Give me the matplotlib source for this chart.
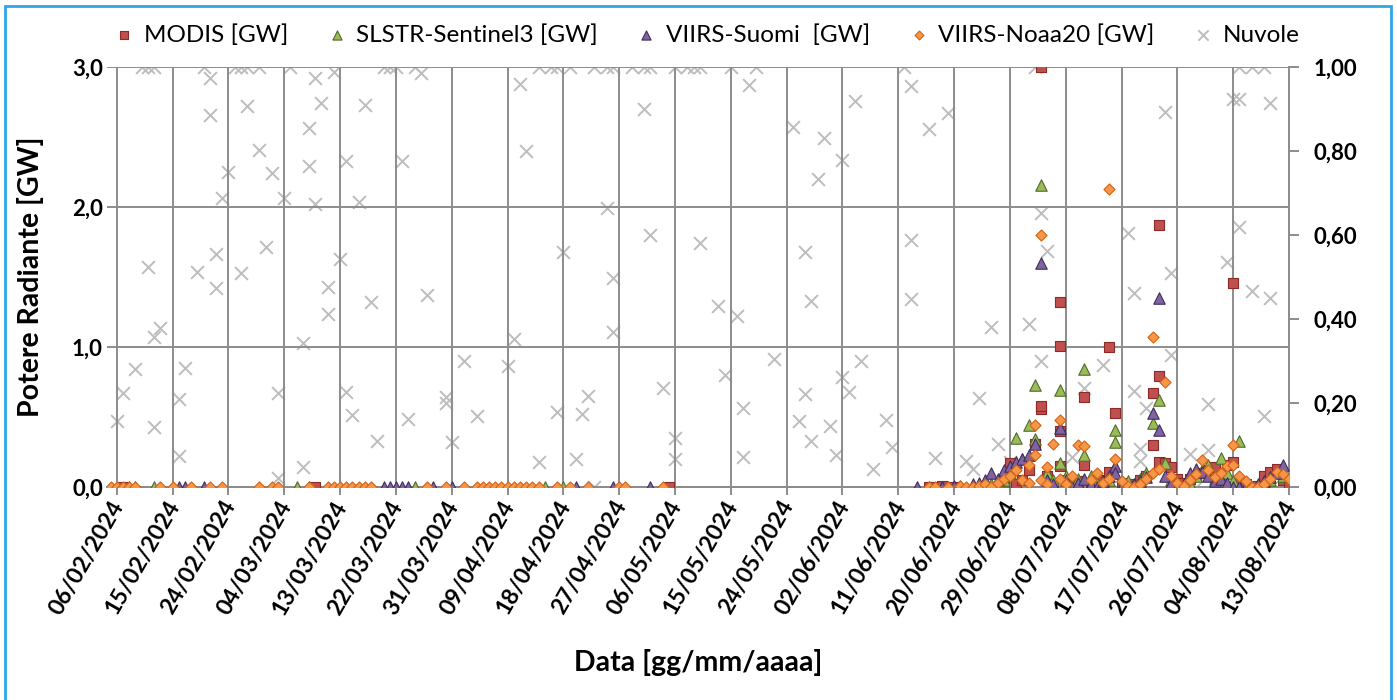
import sys
import numpy as np
import matplotlib
matplotlib.use("Agg")
import matplotlib.pyplot as plt
import matplotlib.dates as mdates
import matplotlib.transforms as mtransforms
from matplotlib.patches import Rectangle
from matplotlib.ticker import FuncFormatter, MultipleLocator

# Day offsets are counted from 06/02/2024
start_date = np.datetime64("2024-02-06")

# MODIS [GW]
modis_days = [1, 32, 89,
              131, 132, 133, 135, 140, 143, 144, 145, 146, 147, 148, 149, 149, 149, 150, 151,
              152, 152, 152, 152, 153, 154, 155, 156, 156, 157, 158, 159, 160, 160, 161, 162,
              163, 164, 165, 166, 167, 167, 168, 168, 168, 169, 170, 171, 172, 173, 174, 175,
              176, 177, 178, 179, 180, 180, 181, 182, 183, 184, 185, 186, 187, 188, 189]
modis_vals = [0.0, 0.0, 0.0,
              0.0, 0.0, 0.01, 0.0, 0.0, 0.02, 0.17, 0.02, 0.05, 0.12, 0.31, 0.56, 0.58, 3.0, 0.08, 0.03,
              1.32, 1.01, 0.40, 0.15, 0.05, 0.02, 0.04, 0.645, 0.16, 0.03, 0.02, 0.05, 1.00, 0.11, 0.53, 0.03,
              0.02, 0.01, 0.05, 0.08, 0.30, 0.67, 1.87, 0.79, 0.18, 0.17, 0.14, 0.06, 0.03, 0.06, 0.08, 0.10,
              0.12, 0.14, 0.05, 0.16, 1.46, 0.18, 0.03, 0.02, 0.0, 0.01, 0.08, 0.11, 0.13, 0.05, 0.02]

# SLSTR-Sentinel3 [GW]
slstr_days = [6, 29, 48, 69, 72,
              133, 136, 138, 141, 143, 144, 145, 146, 147, 148, 148, 149, 150, 151, 152, 152,
              153, 154, 155, 156, 156, 157, 158, 159, 160, 161, 161, 162, 163, 164, 165, 166,
              167, 168, 169, 170, 171, 172, 173, 174, 175, 176, 177, 178, 179, 180, 181, 182,
              183, 185, 186, 188]
slstr_vals = [0.0, 0.0, 0.0, 0.0, 0.0,
              0.0, 0.01, 0.0, 0.02, 0.05, 0.10, 0.35, 0.20, 0.44, 0.73, 0.34, 2.16, 0.10, 0.05, 0.69, 0.17,
              0.08, 0.02, 0.06, 0.84, 0.23, 0.08, 0.03, 0.02, 0.05, 0.41, 0.32, 0.02, 0.04, 0.0, 0.06, 0.10,
              0.46, 0.62, 0.17, 0.05, 0.03, 0.01, 0.02, 0.08, 0.12, 0.16, 0.06, 0.21, 0.10, 0.04, 0.33, 0.02,
              0.0, 0.03, 0.05, 0.08]

# VIIRS-Suomi [GW]
suomi_days = [2, 3, 10, 11, 14, 31, 43, 44, 45, 46, 47, 51, 54, 74, 80, 86, 129,
              131, 133, 134, 135, 136, 138, 139, 140, 141, 142, 143, 144, 145, 146, 147, 148,
              149, 150, 151, 152, 153, 154, 155, 156, 157, 158, 159, 160, 161, 161, 162, 163,
              164, 165, 166, 167, 168, 168, 169, 170, 171, 172, 173, 174, 175, 176, 177, 178,
              179, 180, 181, 182, 183, 184, 185, 186, 187, 188]
suomi_vals = [0.0] * 17 + \
             [0.0, 0.0, 0.0, 0.01, 0.0, 0.02, 0.03, 0.05, 0.10, 0.06, 0.12, 0.15, 0.18, 0.20, 0.23, 0.31,
              1.60, 0.05, 0.02, 0.42, 0.05, 0.0, 0.03, 0.06, 0.02, 0.0, 0.04, 0.08, 0.15, 0.10, 0.01, 0.0,
              0.02, 0.04, 0.07, 0.53, 1.35, 0.41, 0.08, 0.03, 0.0, 0.02, 0.10, 0.13, 0.11, 0.08, 0.04, 0.06,
              0.03, 0.0, 0.0, 0.01, 0.0, 0.02, 0.04, 0.07, 0.10, 0.16]

# VIIRS-Noaa20 [GW]
noaa_days = [-1, 0, 1, 2, 3, 7, 9, 12, 15, 17, 23, 25, 26, 31, 34, 35, 36, 37, 38, 39, 40, 41,
             50, 53, 56, 58, 59, 60, 61, 62, 63, 64, 65, 66, 67, 68, 71, 73, 76, 81, 82, 88,
             131, 132, 134, 136, 137, 138, 139, 140, 141, 142, 143, 144, 145, 146, 147, 147,
             148, 148, 149, 149, 150, 150, 151, 152, 152, 153, 154, 155, 156, 157, 158, 159,
             160, 160, 161, 162, 163, 164, 165, 166, 167, 167, 168, 169, 170, 171, 172, 173,
             174, 175, 176, 177, 178, 179, 180, 180, 181, 182, 183, 184, 185, 186, 187, 188, 189]
noaa_vals = [0.0] * 42 + \
            [0.0, 0.0, 0.0, 0.01, 0.0, 0.0, 0.01, 0.02, 0.0, 0.03, 0.06, 0.08, 0.12, 0.05, 0.16, 0.03,
             0.44, 0.23, 1.80, 0.05, 0.14, 0.02, 0.31, 0.48, 0.06, 0.02, 0.08, 0.30, 0.29, 0.05, 0.10, 0.03,
             2.13, 0.06, 0.20, 0.04, 0.01, 0.0, 0.02, 0.06, 1.07, 0.10, 0.13, 0.75, 0.08, 0.03, 0.01, 0.05,
             0.09, 0.19, 0.12, 0.07, 0.10, 0.15, 0.30, 0.16, 0.08, 0.04, 0.0, 0.0, 0.02, 0.06, 0.11, 0.09, 0.06]

# Nuvole (cloud fraction, right axis)
cloud_days = [4, 5, 6, 14, 19, 20, 21, 23, 28, 43, 44, 45, 48, 68, 70, 71, 73, 77, 79, 80,
              83, 85, 86, 90, 92, 93, 94, 99, 103, 127, 148, 181, 183, 185,
              0, 1, 3, 5, 6, 6, 7, 10, 10, 11, 13, 15, 15, 16, 16, 17, 18, 20, 21, 23,
              24, 25, 26, 26, 27, 30, 30, 31, 31, 32, 32, 33, 34, 34, 35, 36, 37, 37, 38, 39,
              40, 41, 42, 46, 47, 49, 50, 53, 53, 54, 56, 58, 63, 64, 65, 66, 68, 71, 72, 74,
              75, 76, 77, 79, 80, 80, 85, 86, 88, 90, 90, 94, 97, 98, 100, 101, 101, 102, 106, 109,
              110, 111, 111, 112, 112, 113, 114, 115, 116, 117, 117, 118, 119, 120, 122, 124, 125, 128, 128, 128,
              131, 132, 134, 137, 138, 139, 141, 142, 144, 147, 149, 149, 150, 154, 156, 159, 162, 163, 164, 164,
              165, 165, 166, 169, 170, 170, 173, 174, 176, 176, 177, 179, 180, 181, 181, 183, 185, 186, 186]
cloud_vals = [1.0] * 34 + \
             [0.156, 0.225, 0.280, 0.525, 0.356, 0.144, 0.378, 0.209, 0.074, 0.284, 0.513, 0.973, 0.886,
              0.555, 0.473, 0.687, 0.751, 0.509, 0.906, 0.802,
              0.571, 0.747, 0.225, 0.021, 0.687, 0.342, 0.047, 0.854, 0.765, 0.975, 0.674, 0.914, 0.477,
              0.412, 0.989, 0.542, 0.776, 0.227, 0.171, 0.679,
              0.910, 0.440, 0.110, 0.776, 0.162, 0.985, 0.457, 0.215, 0.199, 0.108, 0.300, 0.170, 0.288,
              0.352, 0.959, 0.800, 0.059, 0.179, 0.560, 0.066,
              0.173, 0.217, 0.0, 0.664, 0.498, 0.370, 0.900, 0.600, 0.236, 0.116, 0.066, 0.580, 0.431,
              0.267, 0.408, 0.187, 0.072, 0.957, 0.304, 0.858,
              0.157, 0.560, 0.221, 0.444, 0.110, 0.733, 0.832, 0.145, 0.076, 0.779, 0.263, 0.227, 0.919,
              0.300, 0.043, 0.160, 0.096, 0.955, 0.588, 0.448,
              0.852, 0.070, 0.890, 0.062, 0.044, 0.213, 0.382, 0.102, 0.060, 0.388, 0.653, 0.301, 0.562,
              0.072, 0.235, 0.290, 0.0, 0.604, 0.463, 0.229,
              0.090, 0.063, 0.187, 0.894, 0.510, 0.314, 0.079, 0.0, 0.198, 0.088, 0.0, 0.535, 0.923,
              0.923, 0.620, 0.467, 0.170, 0.915, 0.449]

tick_step = 9      # days between date labels
n_days = 189       # 06/02/2024 -> 13/08/2024


def to_dates(days):
    return start_date + np.array(days).astype("timedelta64[D]")


def main():
    plt.rcParams['font.family'] = ['Lato', 'DejaVu Sans']

    fig = plt.figure(figsize=(13.97, 7.0), dpi=100)
    ax1 = fig.add_axes([107 / 1397, 1 - 487 / 700, 1182 / 1397, 420 / 700])
    ax2 = ax1.twinx()

    # clouds behind the radiative power markers
    ax1.set_zorder(ax2.get_zorder() + 1)
    ax1.patch.set_visible(False)

    cl = ax2.scatter(to_dates(cloud_days), cloud_vals, marker='x', s=85, color='#bdbdbd',
                     linewidths=1.4, label='Nuvole')

    m1 = ax1.scatter(to_dates(modis_days), modis_vals, marker='s', s=62, color='#c0504d',
                     edgecolors='#8c2a28', linewidths=0.8, label='MODIS [GW]', zorder=3)
    m2 = ax1.scatter(to_dates(slstr_days), slstr_vals, marker='^', s=68, color='#9bbb59',
                     edgecolors='#4f6a28', linewidths=0.8, label='SLSTR-Sentinel3 [GW]', zorder=4)
    m3 = ax1.scatter(to_dates(suomi_days), suomi_vals, marker='^', s=68, color='#8064a2',
                     edgecolors='#3f2c5c', linewidths=0.8, label='VIIRS-Suomi  [GW]', zorder=5)
    m4 = ax1.scatter(to_dates(noaa_days), noaa_vals, marker='D', s=32, color='#f79646',
                     edgecolors='#d0641a', linewidths=0.8, label='VIIRS-Noaa20 [GW]', zorder=6)

    # axes limits
    ax1.set_xlim(start_date - np.timedelta64(38, 'h'), start_date + np.timedelta64(n_days, 'D'))
    ax1.set_ylim(0, 3.0)
    ax2.set_ylim(0, 1.0)

    ticks = to_dates(np.arange(0, n_days + 1, tick_step))
    ax1.set_xticks(ticks)
    ax1.xaxis.set_major_formatter(mdates.DateFormatter('%d/%m/%Y'))
    ax1.yaxis.set_major_locator(MultipleLocator(1.0))
    ax1.yaxis.set_major_formatter(FuncFormatter(lambda v, p: f"{v:.1f}".replace('.', ',')))
    ax2.yaxis.set_major_locator(MultipleLocator(0.2))
    ax2.yaxis.set_major_formatter(FuncFormatter(lambda v, p: f"{v:.2f}".replace('.', ',')))

    grid_col = '#8c8c8c'
    ax1.grid(True, color=grid_col, linewidth=1.4)
    ax1.set_axisbelow(True)

    for ax in (ax1, ax2):
        for side in ('top', 'left', 'right'):
            ax.spines[side].set_visible(False)
        ax.spines['bottom'].set_color(grid_col)
        ax.spines['bottom'].set_linewidth(1.4)
    ax2.spines['right'].set_visible(True)
    ax2.spines['right'].set_color(grid_col)
    ax2.spines['right'].set_linewidth(1.4)

    ax1.tick_params(axis='y', length=0, pad=3, labelsize=16)
    ax1.tick_params(axis='x', length=6, width=1.4, color=grid_col, labelsize=16.5, pad=5)
    ax2.tick_params(axis='y', length=7, width=1.4, color=grid_col, labelsize=16, pad=11)
    shift = mtransforms.ScaledTranslation(2 / 100, 0, fig.dpi_scale_trans)
    for lab in ax1.get_xticklabels():
        lab.set_rotation(60)
        lab.set_rotation_mode('anchor')
        lab.set_ha('right')
        lab.set_va('center')
        lab.set_fontweight('bold')
        lab.set_transform(lab.get_transform() + shift)
    for lab in ax1.get_yticklabels() + ax2.get_yticklabels():
        lab.set_fontweight('bold')

    ax1.set_ylabel('Potere Radiante [GW]', fontsize=20.5, fontweight='bold')
    ax1.yaxis.set_label_coords(-0.053, 0.5)
    fig.text(0.5, 1 - 662 / 700, 'Data [gg/mm/aaaa]', fontsize=20.5, fontweight='bold',
             ha='center', va='center')

    # legend across the top
    fig.legend(handles=[m1, m2, m3, m4, cl], loc='center', bbox_to_anchor=(0.506, 1 - 35 / 700),
               ncol=5, frameon=False, fontsize=17.5, handlelength=0.8, handletextpad=0.4,
               columnspacing=1.6, markerscale=0.8)

    # light blue frame round the picture
    fig.patches.append(Rectangle((5 / 1397, -0.02), 1386 / 1397, 1 - 6 / 700 + 0.02,
                                 transform=fig.transFigure, fill=False,
                                 edgecolor='#2ea6e6', linewidth=2))

    fig.savefig('out.png', dpi=100)
    return 0


if __name__ == "__main__":
    sys.exit(main())
